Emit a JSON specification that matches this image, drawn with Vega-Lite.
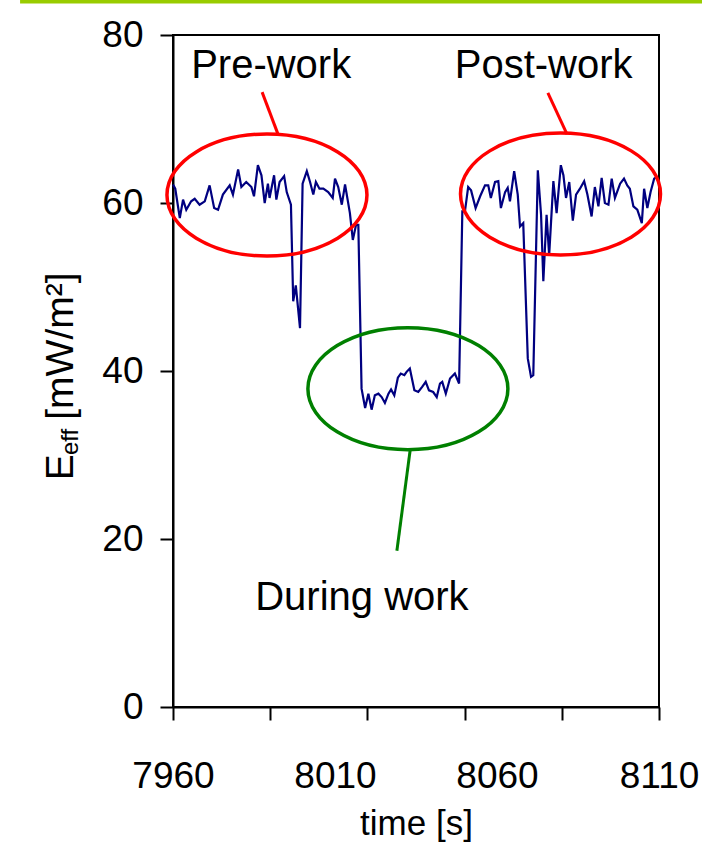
{
  "$schema": "https://vega.github.io/schema/vega-lite/v6.json",
  "autosize": {"type": "none"},
  "padding": {"left": 173, "top": 35, "right": 43, "bottom": 136},
  "width": 486,
  "height": 672,
  "background": "white",
  "config": {
    "font": "Arial, Liberation Sans, sans-serif",
    "view": {"stroke": "black", "strokeWidth": 2},
    "axis": {"grid": false, "domainColor": "black", "domainWidth": 2, "tickColor": "black", "tickWidth": 2, "labelColor": "black", "titleColor": "black"}
  },
  "datasets": {
    "series": [
      {"t": 7960.0, "v": 62.2}, {"t": 7960.7, "v": 61.7}, {"t": 7962.1, "v": 58.2}, {"t": 7963.1, "v": 60.4},
      {"t": 7964.1, "v": 59.2}, {"t": 7965.6, "v": 60.2}, {"t": 7966.7, "v": 60.5}, {"t": 7968.2, "v": 59.8},
      {"t": 7969.8, "v": 60.2}, {"t": 7971.3, "v": 62.1}, {"t": 7972.7, "v": 59.4}, {"t": 7973.9, "v": 59.2},
      {"t": 7975.4, "v": 61.0}, {"t": 7977.5, "v": 62.1}, {"t": 7978.5, "v": 61.0}, {"t": 7980.1, "v": 64.0},
      {"t": 7981.1, "v": 61.9}, {"t": 7982.6, "v": 62.5}, {"t": 7984.2, "v": 61.9}, {"t": 7985.0, "v": 60.8},
      {"t": 7986.2, "v": 64.5}, {"t": 7987.3, "v": 63.3}, {"t": 7988.3, "v": 60.0}, {"t": 7989.3, "v": 62.3},
      {"t": 7989.8, "v": 60.6}, {"t": 7991.2, "v": 63.3}, {"t": 7991.9, "v": 60.4}, {"t": 7992.9, "v": 62.5},
      {"t": 7994.3, "v": 63.2}, {"t": 7995.1, "v": 61.3}, {"t": 7996.4, "v": 59.8}, {"t": 7997.1, "v": 48.3},
      {"t": 7997.9, "v": 50.2}, {"t": 7999.2, "v": 45.1}, {"t": 8000.0, "v": 62.3}, {"t": 8001.3, "v": 63.8},
      {"t": 8002.3, "v": 62.5}, {"t": 8003.3, "v": 61.0}, {"t": 8004.1, "v": 62.5}, {"t": 8005.2, "v": 61.7},
      {"t": 8006.4, "v": 61.7}, {"t": 8007.9, "v": 61.3}, {"t": 8009.3, "v": 60.6}, {"t": 8010.0, "v": 62.9},
      {"t": 8011.0, "v": 61.9}, {"t": 8012.1, "v": 59.8}, {"t": 8013.1, "v": 62.2}, {"t": 8014.6, "v": 58.8},
      {"t": 8015.5, "v": 55.6}, {"t": 8016.5, "v": 57.4}, {"t": 8017.2, "v": 57.4}, {"t": 8018.2, "v": 37.9},
      {"t": 8019.3, "v": 35.6}, {"t": 8020.3, "v": 37.3}, {"t": 8021.3, "v": 35.4}, {"t": 8022.3, "v": 37.1},
      {"t": 8023.4, "v": 37.3}, {"t": 8024.4, "v": 36.9}, {"t": 8025.4, "v": 36.2}, {"t": 8026.5, "v": 37.3},
      {"t": 8027.3, "v": 37.8}, {"t": 8028.3, "v": 37.1}, {"t": 8029.4, "v": 39.2}, {"t": 8030.3, "v": 39.7},
      {"t": 8031.4, "v": 39.5}, {"t": 8032.1, "v": 39.9}, {"t": 8033.1, "v": 40.3}, {"t": 8034.5, "v": 37.7},
      {"t": 8035.7, "v": 37.5}, {"t": 8036.9, "v": 38.1}, {"t": 8038.0, "v": 38.7}, {"t": 8039.0, "v": 37.7},
      {"t": 8040.3, "v": 37.5}, {"t": 8041.4, "v": 36.9}, {"t": 8042.4, "v": 38.5}, {"t": 8043.1, "v": 38.7},
      {"t": 8044.2, "v": 37.3}, {"t": 8045.5, "v": 39.1}, {"t": 8047.0, "v": 39.7}, {"t": 8048.3, "v": 38.5},
      {"t": 8049.3, "v": 59.0}, {"t": 8050.1, "v": 59.0}, {"t": 8051.1, "v": 61.9}, {"t": 8052.0, "v": 61.5},
      {"t": 8053.4, "v": 59.4}, {"t": 8054.8, "v": 60.8}, {"t": 8056.3, "v": 62.1}, {"t": 8057.3, "v": 62.1},
      {"t": 8058.1, "v": 60.6}, {"t": 8059.4, "v": 62.5}, {"t": 8060.4, "v": 62.6}, {"t": 8061.2, "v": 59.4},
      {"t": 8062.5, "v": 61.3}, {"t": 8063.3, "v": 61.8}, {"t": 8064.0, "v": 60.2}, {"t": 8065.3, "v": 63.8},
      {"t": 8066.4, "v": 61.0}, {"t": 8067.1, "v": 57.2}, {"t": 8068.1, "v": 57.6}, {"t": 8069.5, "v": 41.5},
      {"t": 8070.5, "v": 39.3}, {"t": 8071.2, "v": 39.5}, {"t": 8072.6, "v": 63.9}, {"t": 8073.6, "v": 58.6},
      {"t": 8074.3, "v": 50.7}, {"t": 8075.3, "v": 58.6}, {"t": 8076.1, "v": 53.8}, {"t": 8077.4, "v": 62.6},
      {"t": 8078.4, "v": 58.8}, {"t": 8079.7, "v": 64.5}, {"t": 8080.5, "v": 63.3}, {"t": 8081.3, "v": 60.6},
      {"t": 8082.3, "v": 62.5}, {"t": 8083.4, "v": 57.9}, {"t": 8084.4, "v": 61.0}, {"t": 8085.6, "v": 61.7},
      {"t": 8086.9, "v": 62.6}, {"t": 8087.9, "v": 61.0}, {"t": 8089.2, "v": 58.4}, {"t": 8090.2, "v": 61.9},
      {"t": 8091.3, "v": 59.6}, {"t": 8092.3, "v": 63.0}, {"t": 8093.3, "v": 60.0}, {"t": 8094.4, "v": 59.8},
      {"t": 8095.4, "v": 62.9}, {"t": 8096.4, "v": 60.6}, {"t": 8098.0, "v": 62.3}, {"t": 8099.2, "v": 62.9},
      {"t": 8100.2, "v": 62.1}, {"t": 8101.0, "v": 61.7}, {"t": 8102.1, "v": 59.6}, {"t": 8103.3, "v": 59.2},
      {"t": 8104.7, "v": 57.6}, {"t": 8105.4, "v": 61.7}, {"t": 8106.4, "v": 59.4}, {"t": 8107.4, "v": 61.3},
      {"t": 8108.5, "v": 62.9}, {"t": 8109.3, "v": 63.1}
    ],
    "redEllipses": [
      {"name": "Pre-work", "t": 7989.0, "v": 60.95},
      {"name": "Post-work", "t": 8079.6, "v": 61.07}
    ],
    "greenEllipses": [
      {"name": "During work", "t": 8032.5, "v": 37.9}
    ],
    "redCallouts": [
      {"name": "Pre-work", "t": 7987.5, "v": 73.2, "t2": 7992.4, "v2": 68.2},
      {"name": "Post-work", "t": 8075.7, "v": 73.1, "t2": 8081.6, "v2": 68.2}
    ],
    "greenCallouts": [
      {"name": "During work", "t": 8033.2, "v": 30.6, "t2": 8029.1, "v2": 18.6}
    ],
    "labels": [
      {"label": "Pre-work", "t": 7990.3, "v": 74.9},
      {"label": "Post-work", "t": 8074.4, "v": 74.9},
      {"label": "During work", "t": 8018.3, "v": 11.5}
    ],
    "yTitleMain": [
      {"label": "E", "t": 7929.1, "v": 27.0},
      {"label": "[mW/m²]", "t": 7929.1, "v": 34.2}
    ],
    "yTitleSub": [
      {"label": "eff", "t": 7930.7, "v": 30.0}
    ],
    "topBar": [
      {"t": 7912.8, "t2": 8123.3, "v": 83.95}
    ]
  },
  "layer": [
    {
      "data": {"name": "topBar"},
      "mark": {"type": "rule", "color": "#99cc00", "strokeWidth": 3.5, "clip": false},
      "encoding": {
        "x": {"field": "t", "type": "quantitative"},
        "x2": {"field": "t2"},
        "y": {"field": "v", "type": "quantitative"}
      }
    },
    {
      "data": {"name": "series"},
      "mark": {"type": "line", "color": "#000080", "strokeWidth": 2.2},
      "encoding": {
        "x": {
          "field": "t", "type": "quantitative",
          "scale": {"domain": [7960, 8110], "nice": false, "zero": false},
          "axis": {
            "values": [7960, 7990, 8010, 8020, 8050, 8060, 8080, 8110],
            "format": "d",
            "labelExpr": "(datum.value - 7960) % 50 == 0 ? datum.label : ''",
            "tickOpacity": {"condition": {"test": "(datum.value - 7960) % 30 == 0", "value": 1}, "value": 0},
            "tickSize": 13,
            "labelFontSize": 37,
            "labelPadding": 38,
            "labelFlush": false,
            "labelOverlap": false,
            "labelBound": false,
            "title": "time [s]",
            "titleFontSize": 35,
            "titleFontWeight": "normal",
            "titlePadding": 12
          }
        },
        "y": {
          "field": "v", "type": "quantitative",
          "scale": {"domain": [0, 80], "nice": false, "zero": true},
          "axis": {
            "values": [0, 20, 40, 60, 80],
            "tickSize": 13,
            "labelFontSize": 37,
            "labelPadding": 17,
            "title": null
          }
        }
      }
    },
    {
      "data": {"name": "redEllipses"},
      "mark": {"type": "point", "shape": "M -1,0 C -1,-0.3369 -0.5523,-0.61 0,-0.61 C 0.5523,-0.61 1,-0.3369 1,0 C 1,0.3369 0.5523,0.61 0,0.61 C -0.5523,0.61 -1,0.3369 -1,0 Z", "filled": false, "stroke": "#ff0000", "strokeWidth": 3.5, "size": 40000, "opacity": 1},
      "encoding": {
        "x": {"field": "t", "type": "quantitative"},
        "y": {"field": "v", "type": "quantitative"}
      }
    },
    {
      "data": {"name": "greenEllipses"},
      "mark": {"type": "point", "shape": "M -1,0 C -1,-0.3369 -0.5523,-0.61 0,-0.61 C 0.5523,-0.61 1,-0.3369 1,0 C 1,0.3369 0.5523,0.61 0,0.61 C -0.5523,0.61 -1,0.3369 -1,0 Z", "filled": false, "stroke": "#008000", "strokeWidth": 3.5, "size": 40000, "opacity": 1},
      "encoding": {
        "x": {"field": "t", "type": "quantitative"},
        "y": {"field": "v", "type": "quantitative"}
      }
    },
    {
      "data": {"name": "redCallouts"},
      "mark": {"type": "rule", "color": "#ff0000", "strokeWidth": 3},
      "encoding": {
        "x": {"field": "t", "type": "quantitative"},
        "x2": {"field": "t2"},
        "y": {"field": "v", "type": "quantitative"},
        "y2": {"field": "v2"}
      }
    },
    {
      "data": {"name": "greenCallouts"},
      "mark": {"type": "rule", "color": "#008000", "strokeWidth": 3},
      "encoding": {
        "x": {"field": "t", "type": "quantitative"},
        "x2": {"field": "t2"},
        "y": {"field": "v", "type": "quantitative"},
        "y2": {"field": "v2"}
      }
    },
    {
      "data": {"name": "labels"},
      "mark": {"type": "text", "fontSize": 40, "align": "center", "baseline": "alphabetic", "color": "black"},
      "encoding": {
        "x": {"field": "t", "type": "quantitative"},
        "y": {"field": "v", "type": "quantitative"},
        "text": {"field": "label"}
      }
    },
    {
      "data": {"name": "yTitleMain"},
      "mark": {"type": "text", "fontSize": 39, "angle": 270, "align": "left", "baseline": "alphabetic", "color": "black", "clip": false},
      "encoding": {
        "x": {"field": "t", "type": "quantitative"},
        "y": {"field": "v", "type": "quantitative"},
        "text": {"field": "label"}
      }
    },
    {
      "data": {"name": "yTitleSub"},
      "mark": {"type": "text", "fontSize": 24, "angle": 270, "align": "left", "baseline": "alphabetic", "color": "black", "clip": false},
      "encoding": {
        "x": {"field": "t", "type": "quantitative"},
        "y": {"field": "v", "type": "quantitative"},
        "text": {"field": "label"}
      }
    }
  ]
}
